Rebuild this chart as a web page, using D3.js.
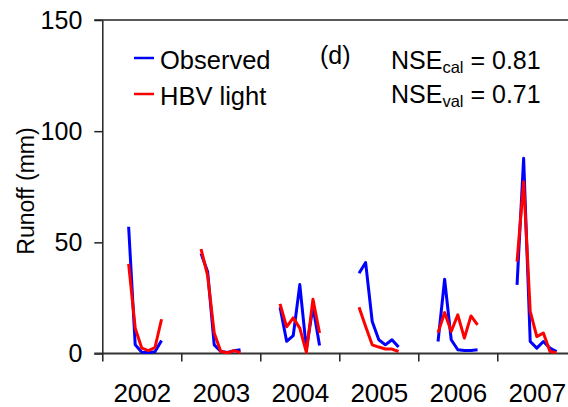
<!DOCTYPE html>
<html>
<head>
<meta charset="utf-8">
<script src="https://cdn.jsdelivr.net/npm/d3@7"></script>
<style>
  body { margin: 0; background: #fff; }
  svg { display: block; font-family: "Liberation Sans", Arial, sans-serif; }
</style>
</head>
<body>
<svg id="chart"></svg>
<script>
// years shown on the x axis, and the month (0 = Jan) each year's record starts
const years = [2002, 2003, 2004, 2005, 2006, 2007];
const startMonth = [4, 3, 3, 3, 3, 3];
const yTicks = [0, 50, 100, 150];

// monthly runoff (mm), one array per year
const observed = [
  [57, 3.9, 0.6, 0.5, 0.8, 5.8],
  [45, 36.8, 3.9, 0.9, 0.5, 1.2, 1.7],
  [20.8, 5.5, 8, 31, 2, 21, 3.6],
  [36.1, 40.9, 14.4, 6.2, 3.9, 6.2, 2.9],
  [5.4, 33.4, 6.2, 1.7, 1.3, 1.3, 1.7],
  [30.9, 87.8, 5.4, 2.4, 5.4, 2.4, 0.9]
];
const hbv = [
  [40.3, 11.4, 2.4, 1.3, 2.7, 15.4],
  [47, 35, 9.2, 0.9, 0.3, 1.3, 0.4],
  [22.3, 12, 16, 11.4, 0.5, 24.4, 9.2],
  [20.8, 12.1, 3.9, 2.9, 2, 2, 0.9],
  [9.4, 18.4, 9.9, 17.4, 6.9, 16.9, 12.9],
  [41.3, 77.3, 18.9, 7.6, 9.2, 0.9, 0.4]
];

const width = 568, height = 407;
const plotLeft = 102.3, plotTop = 20, plotBottom = 353.5;

const svg = d3.select('#chart')
    .attr('width', width)
    .attr('height', height);

const x = d3.scaleLinear()
    .domain([2002, 2008])
    .range([plotLeft, plotLeft + 6 * 79]);

const y = d3.scaleLinear()
    .domain([0, 150])
    .range([plotBottom, plotTop]);

// turn the per-year arrays into point lists
const toPoints = arr => arr.map((vals, i) =>
  vals.map((v, j) => ({t: years[i] + (startMonth[i] + j) / 12, v: v})));

const line = d3.line()
    .x(d => x(d.t))
    .y(d => y(d.v));

// top border of the plot area
svg.append('line')
    .attr('x1', plotLeft - 8).attr('x2', width)
    .attr('y1', plotTop).attr('y2', plotTop)
    .attr('stroke', '#222')
    .attr('stroke-width', 1.5);

// y axis
const yAxis = d3.axisLeft(y)
    .tickValues(yTicks)
    .tickSize(8)
    .tickPadding(12)
    .tickSizeOuter(0);

const gy = svg.append('g')
    .attr('transform', `translate(${plotLeft}, 0)`)
    .call(yAxis);
gy.select('.domain').attr('stroke', '#222').attr('stroke-width', 1.5);
gy.selectAll('.tick line').attr('stroke', '#222').attr('stroke-width', 1.5);
gy.selectAll('.tick text')
    .attr('fill', '#000')
    .style('font-size', '25px')
    .style('font-family', '"Liberation Sans", Arial, sans-serif');

// x axis: tick marks at year boundaries
const xAxis = d3.axisBottom(x)
    .tickValues(d3.range(2002, 2009))
    .tickSize(8)
    .tickFormat('')
    .tickSizeOuter(0);

const gx = svg.append('g')
    .attr('transform', `translate(0, ${plotBottom})`)
    .call(xAxis);
gx.select('.domain')
    .attr('d', `M${plotLeft - 8},0H${width}`)
    .attr('stroke', '#333')
    .attr('stroke-width', 2);
gx.selectAll('.tick line').attr('stroke', '#222').attr('stroke-width', 1.5);

// x axis: year labels centred in each year
const xLabels = d3.axisBottom(x)
    .tickValues(years.map(d => d + 0.5))
    .tickSize(0)
    .tickPadding(30)
    .tickFormat(d => Math.floor(d));

const gl = svg.append('g')
    .attr('transform', `translate(0, ${plotBottom})`)
    .call(xLabels);
gl.select('.domain').remove();
gl.selectAll('.tick text')
    .attr('fill', '#000')
    .style('font-size', '26px')
    .style('font-family', '"Liberation Sans", Arial, sans-serif');

// series lines
svg.append('g')
  .selectAll('path')
  .data(toPoints(observed))
  .enter()
  .append('path')
    .attr('d', line)
    .attr('fill', 'none')
    .attr('stroke', '#0000ff')
    .attr('stroke-width', 3)
    .attr('stroke-linejoin', 'round');

svg.append('g')
  .selectAll('path')
  .data(toPoints(hbv))
  .enter()
  .append('path')
    .attr('d', line)
    .attr('fill', 'none')
    .attr('stroke', '#ff0000')
    .attr('stroke-width', 3)
    .attr('stroke-linejoin', 'round');

// y axis title
svg.append('text')
    .attr('transform', 'rotate(-90)')
    .attr('x', -191)
    .attr('y', 34)
    .style('text-anchor', 'middle')
    .style('font-size', '23px')
    .text('Runoff (mm)');

// legend
const legend = [
  {name: 'Observed', color: '#0000ff', y: 58},
  {name: 'HBV light', color: '#ff0000', y: 94}
];
const lg = svg.append('g');
lg.selectAll('line')
  .data(legend)
  .enter()
  .append('line')
    .attr('x1', 134).attr('x2', 154)
    .attr('y1', d => d.y).attr('y2', d => d.y)
    .attr('stroke', d => d.color)
    .attr('stroke-width', 2.5);
lg.selectAll('text')
  .data(legend)
  .enter()
  .append('text')
    .attr('x', 160)
    .attr('y', d => d.y + 11)
    .style('font-size', '25.5px')
    .text(d => d.name);

svg.append('text')
    .attr('x', 320)
    .attr('y', 64)
    .style('font-size', '25px')
    .text('(d)');

// NSE scores
const nse = [
  {sub: 'cal', value: '0.81', y: 69},
  {sub: 'val', value: '0.71', y: 103}
];
nse.forEach(d => {
  const t = svg.append('text')
      .attr('x', 391)
      .attr('y', d.y)
      .style('font-size', '25px');
  t.append('tspan').text('NSE');
  t.append('tspan')
      .attr('dy', 4)
      .style('font-size', '16.5px')
      .text(d.sub);
  t.append('tspan')
      .attr('dy', -4)
      .text(' = ' + d.value);
});
</script>
</body>
</html>
